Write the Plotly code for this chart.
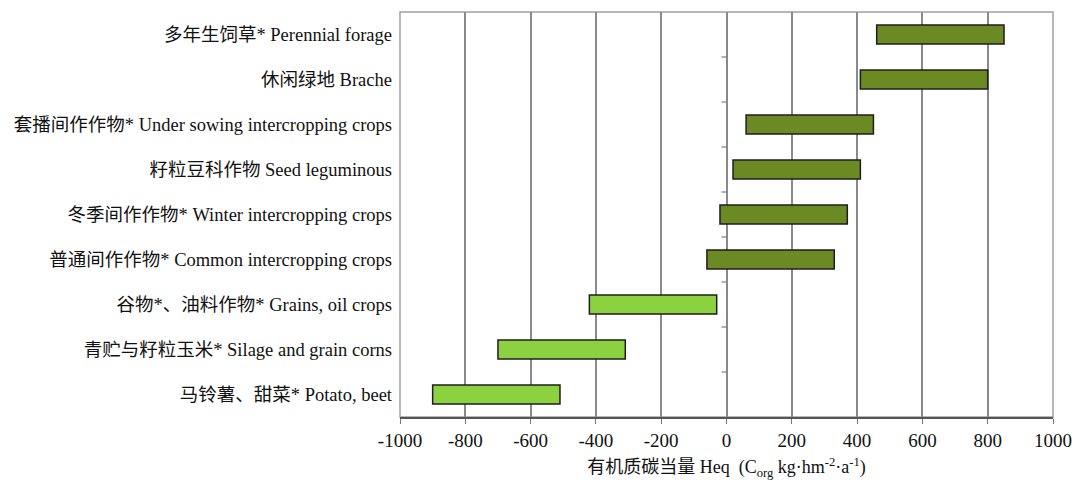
import plotly.graph_objects as go

# Crop categories, top to bottom
categories = [
    "多年生饲草* Perennial forage",
    "休闲绿地 Brache",
    "套播间作作物* Under sowing intercropping crops",
    "籽粒豆科作物 Seed leguminous",
    "冬季间作作物* Winter intercropping crops",
    "普通间作作物* Common intercropping crops",
    "谷物*、油料作物* Grains, oil crops",
    "青贮与籽粒玉米* Silage and grain corns",
    "马铃薯、甜菜* Potato, beet",
]
# Humus-carbon equivalent range (lower / upper bound)
heq_low = [460, 410, 60, 20, -20, -60, -420, -700, -900]
heq_high = [850, 800, 450, 410, 370, 330, -30, -310, -510]

x_ticks = [-1000, -800, -600, -400, -200, 0, 200, 400, 600, 800, 1000]

DARK = "#6b8a23"
LIGHT = "#8cd13f"
colors = [DARK if hi > 0 else LIGHT for hi in heq_high]

font_family = "Liberation Serif, Times New Roman, Noto Sans CJK SC, serif"

fig = go.Figure()
fig.add_trace(go.Bar(
    y=categories,
    x=[h - l for l, h in zip(heq_low, heq_high)],
    base=heq_low,
    orientation="h",
    width=0.42,
    marker=dict(color=colors, line=dict(color="#1e1e1e", width=1.5)),
    hoverinfo="skip",
))

# small tick marks on the zero line at category boundaries
shapes = []
for i in range(len(categories) - 1):
    shapes.append(dict(
        type="line", xref="x", yref="y", xsizemode="pixel", xanchor=0,
        x0=-5, x1=0, y0=i + 0.5, y1=i + 0.5,
        line=dict(color="#808080", width=1.2),
    ))
# plot frame
shapes.append(dict(type="rect", xref="paper", yref="paper", x0=0, x1=1, y0=0, y1=1,
                   line=dict(color="#a0a0a0", width=1.5), layer="below"))

fig.update_layout(
    width=1075, height=480,
    margin=dict(l=400, r=22, t=12, b=63),
    paper_bgcolor="white", plot_bgcolor="white",
    showlegend=False,
    font=dict(family=font_family, size=18.5, color="#111"),
    shapes=shapes,
)
fig.update_xaxes(
    range=[-1000, 1000],
    automargin=False,
    tickvals=x_ticks,
    ticktext=[str(v) for v in x_ticks],
    showgrid=True, gridcolor="#8a8a8a", gridwidth=1.5,
    zeroline=False,
    showline=True, linecolor="#555", linewidth=1.5,
    ticks="outside", ticklen=5, tickcolor="#777", tickwidth=1.2,
    tickfont=dict(size=19),
    title=dict(text="有机质碳当量 Heq  (C<sub>org</sub> kg·hm<sup>-2</sup>·a<sup>-1</sup>)",
               font=dict(size=18), standoff=11),
)
fig.update_yaxes(
    categoryorder="array", categoryarray=categories,
    autorange="reversed",
    automargin=False,
    showgrid=False, zeroline=False, showline=False,
    ticks="", ticklabelstandoff=7,
    tickfont=dict(size=18.5),
)

fig.write_html("out.html")
